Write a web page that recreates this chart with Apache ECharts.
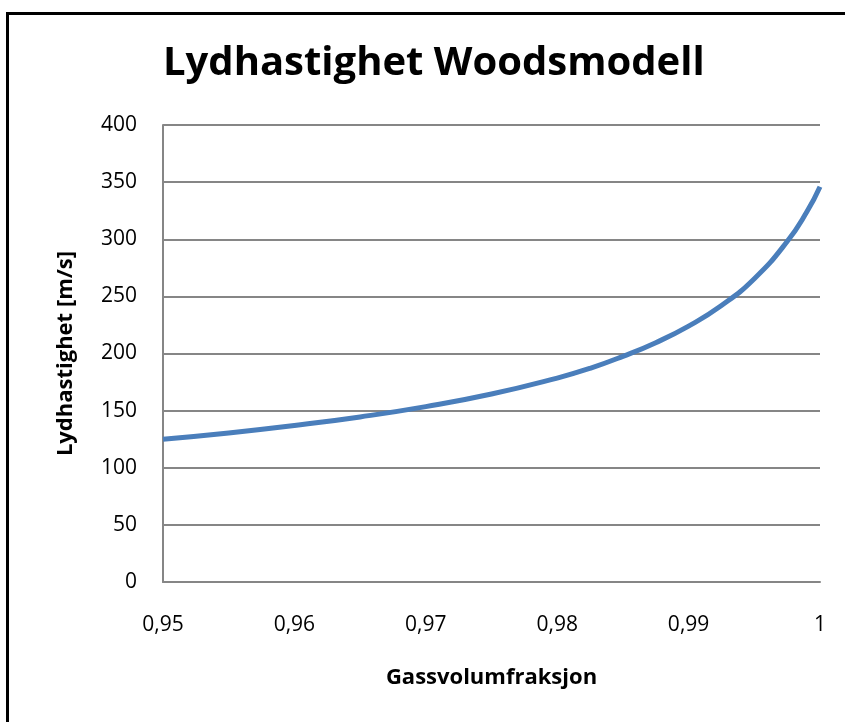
<!DOCTYPE html>
<html><head><meta charset="utf-8">
<script src="https://cdn.jsdelivr.net/npm/echarts@6/dist/echarts.min.js"></script>
<style>html,body{margin:0;padding:0;background:#fff}#c{width:845px;height:722px}</style>
</head><body><div id="c"></div>
<script>
var gasFraction = [0.95, 0.955, 0.96, 0.965, 0.97, 0.975, 0.98, 0.9825, 0.985, 0.9875, 0.99, 0.9925, 0.995, 0.9975, 0.999, 1.0];
var soundSpeed  = [125, 130.5, 137, 144.5, 153.5, 164.5, 178.5, 187, 197.5, 209.5, 224, 242, 265.5, 298, 324, 346];
var titleText = 'Lydhastighet Woodsmodell';
var xName = 'Gassvolumfraksjon';
var yName = 'Lydhastighet [m/s]';

var chart = echarts.init(document.getElementById('c'), null, {renderer: 'canvas'});
var font = 'Open Sans';
chart.setOption({
  animation: false,
  title: {text: titleText, left: 163, top: 44, padding: [0, 0, 0, 0],
    textStyle: {fontFamily: font, fontWeight: 'bold', fontSize: 40, color: '#000'}},
  grid: {left: 163, top: 125, right: 25, bottom: 140},
  graphic: [{type: 'rect', shape: {x: 7.5, y: 13.5, width: 900, height: 800},
    style: {fill: 'none', stroke: '#000', lineWidth: 3}, silent: true}],
  xAxis: {type: 'value', min: 0.95, max: 1, interval: 0.01,
    name: xName, nameLocation: 'middle', nameGap: 85,
    nameTextStyle: {fontFamily: font, fontWeight: 'bold', fontSize: 22, color: '#000'},
    axisLine: {lineStyle: {color: '#868686', width: 2}},
    axisTick: {show: false}, splitLine: {show: false},
    axisLabel: {margin: 33, fontFamily: font, fontSize: 21, color: '#000',
      formatter: function (v) { var s = String(+v.toFixed(2)); return s.replace('.', ','); }}},
  yAxis: {type: 'value', min: 0, max: 400, interval: 50,
    name: yName, nameLocation: 'middle', nameGap: 86,
    nameTextStyle: {fontFamily: font, fontWeight: 'bold', fontSize: 22, color: '#000'},
    axisLine: {show: true, lineStyle: {color: '#868686', width: 2}},
    axisTick: {show: false},
    splitLine: {lineStyle: {color: '#868686', width: 2}},
    axisLabel: {margin: 26, fontFamily: font, fontSize: 21, color: '#000'}},
  series: [{type: 'line', data: gasFraction.map(function (x, i) { return [x, soundSpeed[i]]; }),
    smooth: true, showSymbol: false, lineStyle: {color: '#4a7ebb', width: 5}}]
});
</script></body></html>
